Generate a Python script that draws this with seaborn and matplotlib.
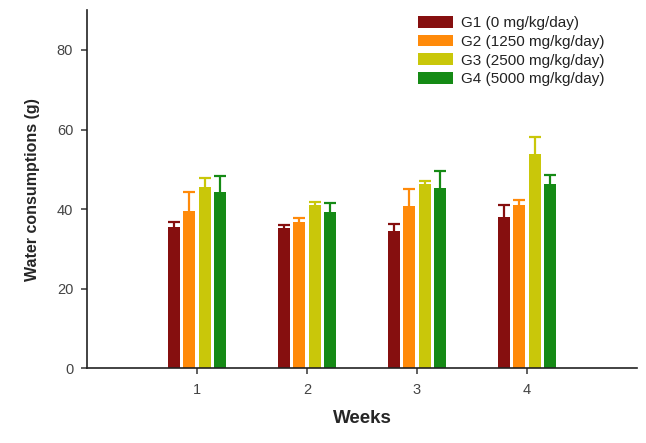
import numpy as np
import matplotlib
matplotlib.use("Agg")
import matplotlib.pyplot as plt
import seaborn as sns
import pandas as pd

weeks = ["1", "2", "3", "4"]
groups = ["G1 (0 mg/kg/day)", "G2 (1250 mg/kg/day)", "G3 (2500 mg/kg/day)", "G4 (5000 mg/kg/day)"]
g1_mean = [35.6, 35.2, 34.4, 37.9]
g2_mean = [39.6, 36.8, 40.7, 41.1]
g3_mean = [45.5, 40.9, 46.4, 53.8]
g4_mean = [44.3, 39.2, 45.4, 46.3]
g1_sd = [1.2, 0.8, 1.9, 3.1]
g2_sd = [4.6, 1.0, 4.3, 1.2]
g3_sd = [2.4, 0.9, 0.6, 4.3]
g4_sd = [4.0, 2.2, 4.2, 2.3]
colors = ["#860f0f", "#ff8a0a", "#c9c70a", "#158a15"]

means = [g1_mean, g2_mean, g3_mean, g4_mean]
sds = [g1_sd, g2_sd, g3_sd, g4_sd]
df = pd.DataFrame({
    "week": weeks * 4,
    "group": [g for g in groups for _ in weeks],
    "value": sum(means, []),
})

sns.set_style("ticks")
plt.rcParams["font.family"] = ["Liberation Sans", "DejaVu Sans"]

fig = plt.figure(figsize=(6.46, 4.43), dpi=100)
ax = fig.add_axes([0.1347, 0.169, 0.8513, 0.808])

sns.barplot(data=df, x="week", y="value", hue="group", hue_order=groups,
            palette=colors, width=0.56, gap=0.2, errorbar=None, ax=ax,
            saturation=1, linewidth=0)

# one-sided (upper) error bars taken from the drawn bars
for container, sd, col in zip(ax.containers, sds, colors):
    for bar, e in zip(container, sd):
        x = bar.get_x() + bar.get_width() / 2
        y = bar.get_height()
        w = bar.get_width() * 0.5
        ax.vlines(x, y, y + e, color=col, linewidth=1.6)
        ax.hlines(y + e, x - w, x + w, color=col, linewidth=1.6)

ax.set_xlim(-1, 4)
ax.set_ylim(0, 90)
ax.set_yticks([0, 20, 40, 60, 80])
ax.set_xlabel("Weeks", fontsize=13.5, fontweight="bold", labelpad=9)
ax.set_ylabel("Water consumptions (g)", fontsize=11.5, fontweight="bold", labelpad=12)
ax.tick_params(axis="both", labelsize=10.5, colors="#444444", length=4, width=1.2)
ax.tick_params(axis="y", pad=6)
ax.tick_params(axis="x", pad=7)
for s in ["left", "bottom"]:
    ax.spines[s].set_linewidth(1.2)
    ax.spines[s].set_color("#222222")
sns.despine(ax=ax)

leg = ax.legend(loc="upper left", bbox_to_anchor=(418 / 646, 1 - 16 / 443),
                bbox_transform=fig.transFigure, frameon=False,
                fontsize=11, handlelength=2.3, handleheight=0.8,
                labelspacing=0.3, handletextpad=0.5, borderpad=0,
                borderaxespad=0)
for t in leg.get_texts():
    t.set_color("#222222")

fig.savefig("out.png", dpi=100)
